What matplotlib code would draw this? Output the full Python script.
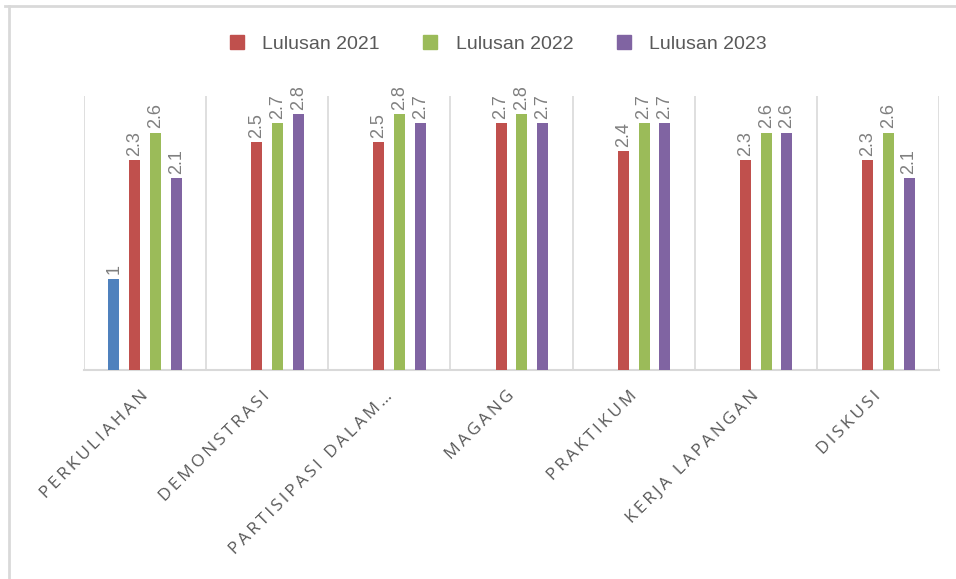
import numpy as np
import matplotlib.pyplot as plt
import matplotlib.transforms as mtransforms
from matplotlib.lines import Line2D

categories = ["PERKULIAHAN", "DEMONSTRASI", "PARTISIPASI DALAM\u2026", "MAGANG",
              "PRAKTIKUM", "KERJA LAPANGAN", "DISKUSI"]
series_names = ["", "Lulusan 2021", "Lulusan 2022", "Lulusan 2023"]
blank = [1, np.nan, np.nan, np.nan, np.nan, np.nan, np.nan]
lulusan_2021 = [2.3, 2.5, 2.5, 2.7, 2.4, 2.3, 2.3]
lulusan_2022 = [2.6, 2.7, 2.8, 2.8, 2.7, 2.6, 2.6]
lulusan_2023 = [2.1, 2.8, 2.7, 2.7, 2.7, 2.6, 2.1]
colors = ["#4F81BD", "#C0504D", "#9BBB59", "#8064A2"]

W, H = 956, 579
fig = plt.figure(figsize=(W / 100, H / 100), dpi=100)
ax = fig.add_axes([84 / W, (H - 370) / H, (939 - 84) / W, (370 - 96) / H])

x = np.arange(len(categories))
step, width = 0.17, 0.09
all_series = [blank, lulusan_2021, lulusan_2022, lulusan_2023]
handles = []
for i, (vals, name, c) in enumerate(zip(all_series, series_names, colors)):
    pos = x + (i - 1.5) * step
    ax.bar(pos, vals, width=width, color=c, zorder=3)
    for xp, v in zip(pos, vals):
        if np.isnan(v):
            continue
        ax.annotate(f"{v:g}", (xp, v), xytext=(0, 3), textcoords="offset points",
                    rotation=90, ha="center", va="bottom", fontsize=13,
                    color="#7F7F7F", family=["Liberation Sans", "DejaVu Sans"])
    if name:
        handles.append(Line2D([], [], marker="s", linestyle="none", markersize=10,
                              markerfacecolor=c, markeredgecolor=c, label=name))

ax.set_xlim(-0.5, len(categories) - 0.5)
ax.set_ylim(0, 3)
ax.set_yticks([])
ax.set_xticks(np.arange(-0.5, len(categories)), minor=True)
ax.grid(True, axis="x", which="minor", color="#D9D9D9", linewidth=1.2, zorder=0)
for s in ["top", "right", "left"]:
    ax.spines[s].set_visible(False)
ax.spines["bottom"].set_color("#D9D9D9")
ax.spines["bottom"].set_linewidth(1.5)

# wide letter spacing like the original axis labels
spaced = ["\u2009".join(c) for c in categories]
ax.set_xticks(x)
ax.set_xticklabels(spaced, rotation=45, ha="right", rotation_mode="anchor",
                   fontsize=12.5, color="#595959", family=["Open Sans", "DejaVu Sans"])
ax.tick_params(axis="x", which="both", length=0, pad=13)
shift = mtransforms.ScaledTranslation(-5 / 100, 0, fig.dpi_scale_trans)
for lbl in ax.get_xticklabels():
    lbl.set_transform(lbl.get_transform() + shift)

fig.legend(handles=handles, loc="center", bbox_to_anchor=(492 / W, 1 - 44 / H),
           ncol=3, frameon=False, handletextpad=0.3, columnspacing=1.6,
           prop={"family": "Liberation Sans", "size": 14}, labelcolor="#595959")

# chart frame (cropped at right and bottom)
fig.add_artist(Line2D([5 / W, 1], [1 - 6 / H, 1 - 6 / H], color="#D9D9D9", linewidth=2))
fig.add_artist(Line2D([9 / W, 9 / W], [0, 1 - 6 / H], color="#D9D9D9", linewidth=2))

fig.savefig("out.png", dpi=100)
